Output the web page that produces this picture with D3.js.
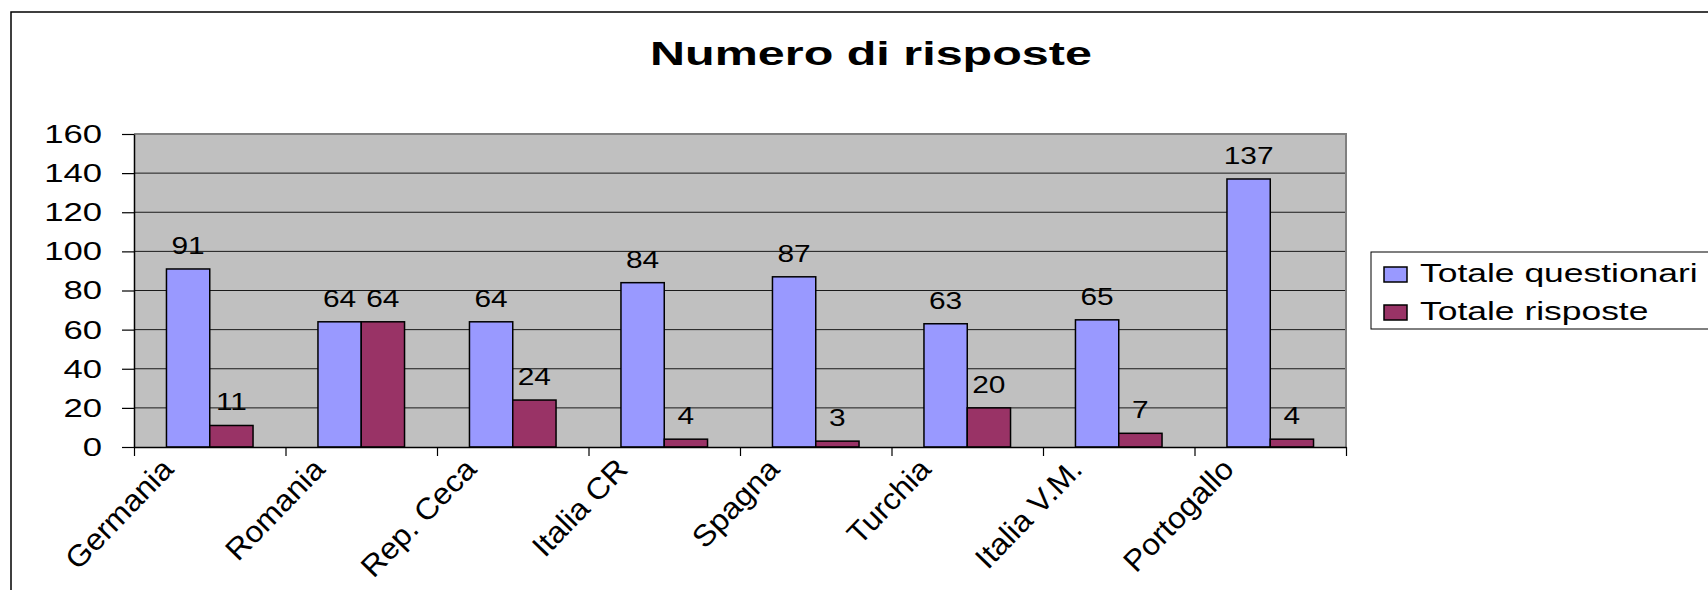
<!DOCTYPE html>
<html>
<head>
<meta charset="utf-8">
<script src="https://cdn.jsdelivr.net/npm/d3@7"></script>
<style>
  body { margin: 0; background: #fff; }
  svg { display: block; font-family: "Liberation Sans", Arial, sans-serif; }
</style>
</head>
<body>
<div id="chart"></div>
<script>
// data
const categories = ["Germania", "Romania", "Rep. Ceca", "Italia CR", "Spagna", "Turchia", "Italia V.M.", "Portogallo"];
const seriesNames = ["Totale questionari", "Totale risposte"];
const questionari = [91, 64, 64, 84, 87, 63, 65, 137];
const risposte = [11, 64, 24, 4, 3, 20, 7, 4];
const yTicks = [0, 20, 40, 60, 80, 100, 120, 140, 160];

const W = 1708, H = 590;
const colors = ["#9999FF", "#993366"];
//plot area box
const plot = { left: 134, right: 1346, top: 134, bottom: 447 };

var svg = d3.select('#chart')
  .append('svg')
  .attr('width', W)
  .attr('height', H);

// outer chart frame (runs off the right and bottom of the picture)
svg.append('rect')
  .attr('x', 11).attr('y', 12)
  .attr('width', W + 20).attr('height', H + 20)
  .attr('fill', '#fff')
  .attr('stroke', '#000')
  .attr('stroke-width', 1.5);

var x = d3.scaleBand()
  .domain(categories)
  .range([plot.left, plot.right])
  .paddingInner(0).paddingOuter(0);

// gap width 150% like the spreadsheet default
var x1 = d3.scaleBand()
  .domain(seriesNames)
  .range([0, x.bandwidth()])
  .paddingInner(0).paddingOuter(0.75);

var y = d3.scaleLinear()
  .domain([0, 160])
  .range([plot.bottom, plot.top]);

//grey plot background
svg.append('rect')
  .attr('x', plot.left).attr('y', plot.top)
  .attr('width', plot.right - plot.left)
  .attr('height', plot.bottom - plot.top)
  .attr('fill', '#C0C0C0');

//grid lines
svg.append('g')
  .selectAll('line')
  .data(yTicks.slice(1, -1))
  .enter()
  .append('line')
  .attr('x1', plot.left).attr('x2', plot.right)
  .attr('y1', d => y(d)).attr('y2', d => y(d))
  .attr('stroke', '#1a1a1a')
  .attr('stroke-width', 1);

//top and right plot border
svg.append('path')
  .attr('d', 'M' + plot.left + ',' + y(160) + 'H' + plot.right + 'V' + plot.bottom)
  .attr('fill', 'none')
  .attr('stroke', '#808080')
  .attr('stroke-width', 2);

// text is wider than the font, as in the reference
var stretch = function (sel, sx) {
  sel.attr('transform', function () {
    var cx = +d3.select(this).attr('x'), cy = +d3.select(this).attr('y');
    return 'translate(' + cx + ',' + cy + ') scale(' + sx + ',1) translate(' + (-cx) + ',' + (-cy) + ')';
  });
};

var rows = categories.map(function (c, i) {
  return { cat: c, values: [questionari[i], risposte[i]] };
});

//bars
var groups = svg.append('g')
  .selectAll('g')
  .data(rows)
  .enter()
  .append('g')
  .attr('transform', d => 'translate(' + x(d.cat) + ',0)');

groups.selectAll('rect')
  .data(d => d.values.map((v, k) => ({ name: seriesNames[k], value: v, k: k })))
  .enter()
  .append('rect')
  .attr('x', d => x1(d.name))
  .attr('width', x1.bandwidth())
  .attr('y', d => y(d.value))
  .attr('height', d => y(0) - y(d.value))
  .attr('fill', d => colors[d.k])
  .attr('stroke', '#000')
  .attr('stroke-width', 1.5);

//value labels
groups.selectAll('text')
  .data(d => d.values.map((v, k) => ({ name: seriesNames[k], value: v })))
  .enter()
  .append('text')
  .attr('x', d => x1(d.name) + x1.bandwidth() / 2)
  .attr('y', d => y(d.value) - 15)
  .attr('text-anchor', 'middle')
  .attr('font-size', 23)
  .attr('fill', '#000')
  .text(d => d.value)
  .call(stretch, 1.3);

//y axis
var yAxis = svg.append('g')
  .attr('transform', 'translate(' + plot.left + ',0)')
  .call(d3.axisLeft(y).tickValues(yTicks).tickSize(12).tickSizeOuter(0).tickPadding(0));
yAxis.select('.domain').attr('stroke', '#000').attr('stroke-width', 1.5);
yAxis.selectAll('.tick line').attr('stroke', '#000').attr('stroke-width', 1.2);
yAxis.selectAll('.tick text').remove();

svg.append('g')
  .selectAll('text')
  .data(yTicks)
  .enter()
  .append('text')
  .attr('x', 102)
  .attr('y', d => y(d) + 9)
  .attr('text-anchor', 'end')
  .attr('font-size', 25.5)
  .attr('fill', '#000')
  .text(d => d)
  .call(stretch, 1.36);

//x axis with tick marks between the categories
var xEdges = d3.scaleLinear().domain([0, categories.length]).range([plot.left, plot.right]);
var xAxis = svg.append('g')
  .attr('transform', 'translate(0,' + plot.bottom + ')')
  .call(d3.axisBottom(xEdges).tickValues(d3.range(categories.length + 1)).tickSize(9).tickSizeOuter(0).tickFormat(''));
xAxis.select('.domain').attr('stroke', '#000').attr('stroke-width', 1.5);
xAxis.selectAll('.tick line').attr('stroke', '#000').attr('stroke-width', 1.2);

//category labels, rotated
svg.append('g')
  .selectAll('text')
  .data(categories)
  .enter()
  .append('text')
  .attr('text-anchor', 'end')
  .attr('dy', '0.52em')
  .attr('font-size', 30)
  .attr('fill', '#000')
  .attr('transform', d => 'translate(' + (x(d) + x.bandwidth() / 2 - 46) + ',460) rotate(-46) scale(1.06,1)')
  .text(d => d);

//title
svg.append('text')
  .attr('x', 871)
  .attr('y', 65)
  .attr('text-anchor', 'middle')
  .attr('font-size', 33)
  .attr('font-weight', 'bold')
  .attr('fill', '#000')
  .text('Numero di risposte')
  .call(stretch, 1.47);

//legend
var legend = svg.append('g');
legend.append('rect')
  .attr('x', 1371).attr('y', 252)
  .attr('width', 400).attr('height', 77)
  .attr('fill', '#fff')
  .attr('stroke', '#000')
  .attr('stroke-width', 1);

var items = legend.selectAll('g')
  .data(seriesNames)
  .enter()
  .append('g')
  .attr('transform', (d, i) => 'translate(0,' + (i * 38) + ')');

items.append('rect')
  .attr('x', 1384).attr('y', 267)
  .attr('width', 23).attr('height', 15)
  .attr('fill', (d, i) => colors[i])
  .attr('stroke', '#000')
  .attr('stroke-width', 1.5);

items.append('text')
  .attr('x', 1420).attr('y', 282)
  .attr('font-size', 25.5)
  .attr('fill', '#000')
  .text(d => d)
  .call(stretch, 1.39);
</script>
</body>
</html>
